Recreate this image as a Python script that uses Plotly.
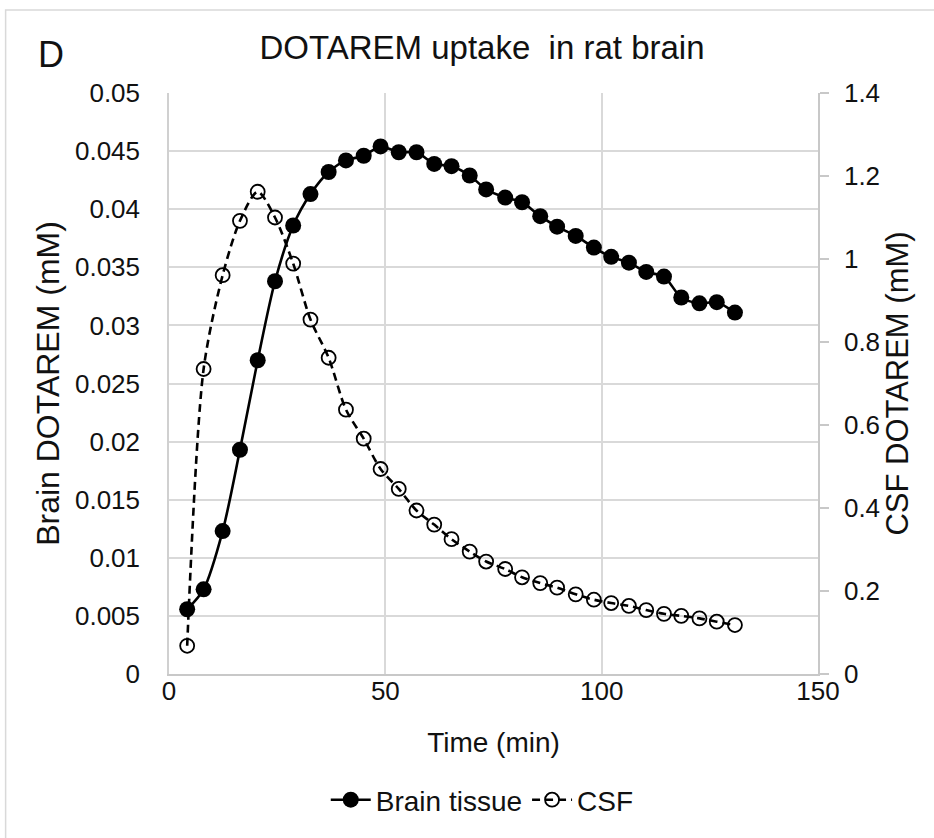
import plotly.graph_objects as go

time_min = [4.2, 8.0, 12.4, 16.4, 20.5, 24.5, 28.7, 32.7, 36.9, 40.9, 45.0, 48.9,
            53.1, 57.2, 61.3, 65.3, 69.5, 73.3, 77.7, 81.6, 85.8, 89.7, 94.0, 98.2,
            102.2, 106.3, 110.3, 114.4, 118.4, 122.6, 126.6, 130.8]
brain_tissue = [0.00557, 0.00729, 0.0123, 0.0193, 0.0270, 0.0338, 0.0386, 0.0413,
                0.0432, 0.0442, 0.0446, 0.0454, 0.0449, 0.0449, 0.0439, 0.0437,
                0.0429, 0.0417, 0.0410, 0.0406, 0.0394, 0.0385, 0.0377, 0.0367,
                0.0359, 0.0354, 0.0346, 0.0342, 0.0324, 0.0319, 0.0320, 0.0311]
csf = [0.068, 0.735, 0.961, 1.092, 1.162, 1.100, 0.989, 0.854, 0.762, 0.637,
       0.567, 0.494, 0.446, 0.394, 0.360, 0.325, 0.295, 0.271, 0.253, 0.233,
       0.219, 0.208, 0.192, 0.179, 0.171, 0.164, 0.154, 0.145, 0.140, 0.134,
       0.126, 0.118]

left_ticks = [0, 0.005, 0.01, 0.015, 0.02, 0.025, 0.03, 0.035, 0.04, 0.045, 0.05]
left_labels = ["0", "0.005", "0.01", "0.015", "0.02", "0.025", "0.03", "0.035", "0.04", "0.045", "0.05"]
right_ticks = [0, 0.2, 0.4, 0.6, 0.8, 1.0, 1.2, 1.4]
right_labels = ["0", "0.2", "0.4", "0.6", "0.8", "1", "1.2", "1.4"]
x_ticks = [0, 50, 100, 150]

FONT = "Liberation Sans, Arial, sans-serif"
TXT = "#111111"

fig = go.Figure()
fig.add_trace(go.Scatter(
    x=time_min, y=brain_tissue, name="Brain tissue", mode="lines+markers",
    line=dict(color="black", width=2.6, shape="spline", smoothing=0.8),
    marker=dict(symbol="circle", size=16, color="black"),
    yaxis="y"))
fig.add_trace(go.Scatter(
    x=time_min, y=csf, name="CSF", mode="lines+markers",
    line=dict(color="black", width=2.6, dash="8px,5px", shape="spline", smoothing=0.8),
    marker=dict(symbol="circle-open", size=14, color="black", line=dict(width=1.8)),
    yaxis="y2"))

W, H = 934, 838
L, R, T, B = 168.5, 818, 93, 674
fig.update_layout(
    width=W, height=H,
    margin=dict(l=L, r=W - R, t=T, b=H - B, pad=0),
    paper_bgcolor="white", plot_bgcolor="white",
    font=dict(family=FONT, size=26, color=TXT),
    title=dict(text="DOTAREM uptake  in rat brain", x=482 / W, xref="container",
               y=1 - 47 / H, yanchor="middle", xanchor="center",
               font=dict(size=33, color=TXT, family=FONT)),
    xaxis=dict(range=[0, 150], tickvals=x_ticks, showgrid=True, gridcolor="#d9d9d9",
               gridwidth=1.5, showline=True, linecolor="#c8c8c8", linewidth=1.5,
               zeroline=False, ticks="", ticklen=0, ticklabelstandoff=-7,
               title=dict(text="Time (min)", font=dict(size=28), standoff=27),
               tickfont=dict(size=26)),
    yaxis=dict(range=[0, 0.05], tickvals=left_ticks, ticktext=left_labels,
               showgrid=True, gridcolor="#d9d9d9", gridwidth=1.5, zeroline=False,
               showline=True, linecolor="#d0d0d0", linewidth=1.5, ticks="",
               ticklabelstandoff=22,
               title=dict(text="Brain DOTAREM (mM)", font=dict(size=32), standoff=6),
               tickfont=dict(size=26)),
    yaxis2=dict(range=[0, 1.4], tickvals=right_ticks, ticktext=right_labels,
                overlaying="y", side="right", showgrid=False, zeroline=False,
                showline=True, linecolor="#c8c8c8", linewidth=1.5,
                ticks="outside", ticklen=9, tickcolor="#c8c8c8", tickwidth=1.5,
                ticklabelstandoff=10,
                title=dict(text="CSF DOTAREM (mM)", font=dict(size=31), standoff=4),
                tickfont=dict(size=26)),
    legend=dict(orientation="h", x=(482 - L) / (R - L), xanchor="center",
                y=-(800 - B) / (B - T), yanchor="middle",
                font=dict(size=28), itemwidth=40, bgcolor="rgba(0,0,0,0)"),
    showlegend=True,
)

# panel letter
fig.add_annotation(text="D", xref="paper", yref="paper",
                   x=(50 - L) / (R - L), y=(B - 54) / (B - T),
                   xanchor="center", yanchor="middle", showarrow=False,
                   font=dict(size=36, color=TXT, family=FONT))

# outer chart frame
fig.add_shape(type="rect", xref="paper", yref="paper",
              x0=(5 - L) / (R - L), x1=(940 - L) / (R - L),
              y0=(B - 845) / (B - T), y1=(B - 10) / (B - T),
              line=dict(color="#d9d9d9", width=1.5), layer="below")

fig.write_html("out.html", config={"displayModeBar": False},
               post_script="document.body.style.margin='0';")
